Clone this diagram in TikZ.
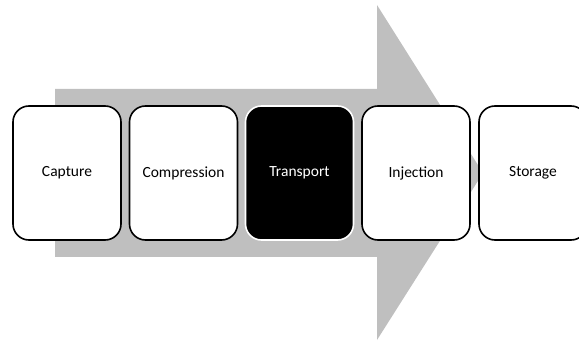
\documentclass[tikz,border=0pt]{standalone}
\usepackage{fontspec}
\setmainfont{Carlito}
\definecolor{arrowgray}{HTML}{BFBFBF}
\begin{document}
\begin{tikzpicture}[x=1pt,y=-1pt,
  stagebox/.style={draw=black, fill=white, line width=1.6pt, rounded corners=16pt,
    minimum width=108pt, minimum height=134pt, font=\fontsize{15.5}{18}\selectfont, inner sep=0pt},
  activebox/.style={stagebox, fill=black, draw=white, text=white}]
\useasboundingbox (0,0) rectangle (579,342);
\clip (0,0) rectangle (579,342);
\fill[arrowgray] (55,89) -- (377,89) -- (377,5) -- (483,173) -- (377,340) -- (377,257) -- (55,257) -- cycle;
\node[stagebox] (capture) at (67,173) {Capture};
\node[stagebox] (compression) at (183.5,173) {Compression};
\node[activebox] (transport) at (299.5,173) {Transport};
\node[stagebox] (injection) at (416,173) {Injection};
\node[stagebox] (storage) at (533,173) {Storage};
\end{tikzpicture}
\end{document}
